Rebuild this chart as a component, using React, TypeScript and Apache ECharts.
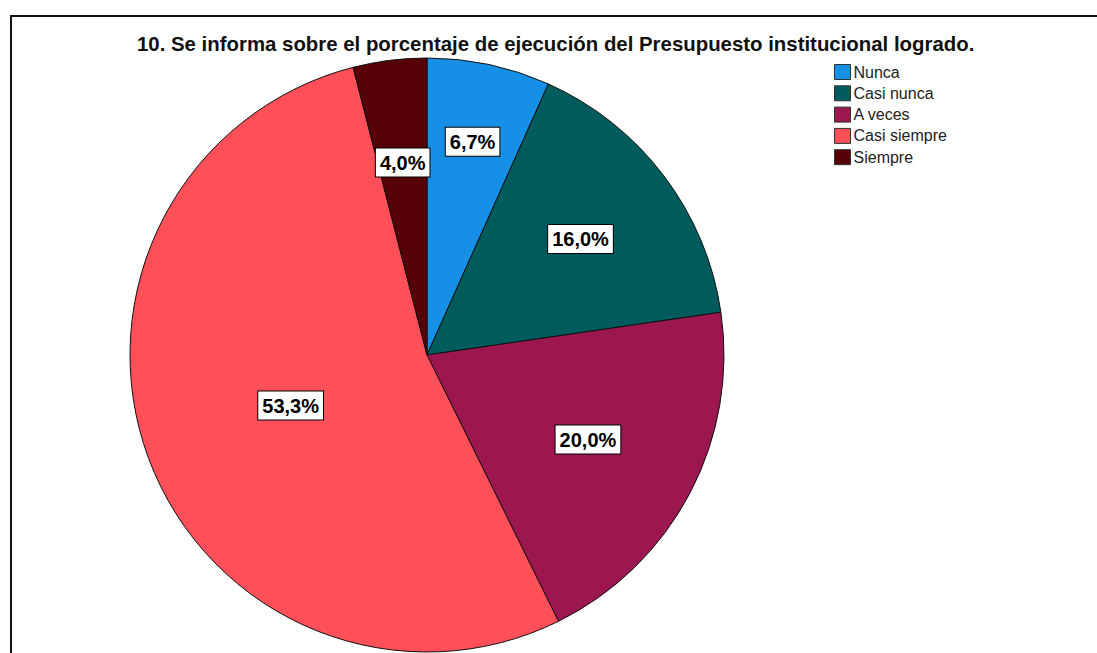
import React, { useEffect, useRef } from "react";
import * as echarts from "echarts";

const titleText = "10. Se informa sobre el porcentaje de ejecución del Presupuesto institucional logrado.";
const categories = ["Nunca", "Casi nunca", "A veces", "Casi siempre", "Siempre"];
const percents = [6.7, 16.0, 20.0, 53.3, 4.0];
const colors = ["#1590E6", "#005C5C", "#9C1650", "#FF4F58", "#560008"];
const labelRadiusFrac = [0.72, 0.635, 0.6, 0.48, 0.64];

const CX = 427;
const CY = 355;
const R = 297;

export default function App() {
  const ref = useRef<HTMLDivElement>(null);
  useEffect(() => {
    if (!ref.current) return;
    const chart = echarts.init(ref.current, null, { renderer: "svg" });
    chart.setOption({
      animation: false,
      backgroundColor: "#ffffff",
      title: {
        text: titleText,
        left: 137,
        top: 34,
        textStyle: { fontFamily: "Liberation Sans, Arial, sans-serif", fontSize: 20.4, fontWeight: "bold", color: "#111" },
        padding: 0,
      },
      legend: {
        orient: "vertical",
        left: 834,
        top: 64,
        padding: 0,
        itemWidth: 16,
        itemHeight: 15,
        itemGap: 5.3,
        icon: "rect",
        data: categories,
        itemStyle: { borderColor: "#333", borderWidth: 1 },
        textStyle: { fontFamily: "Liberation Sans, Arial, sans-serif", fontSize: 16, lineHeight: 15, color: "#222", padding: [0, 0, 0, -2] },
        selectedMode: false,
      },
      graphic: [
        {
          type: "rect",
          shape: { x: 11, y: 16, width: 1200, height: 1000 },
          style: { fill: "none", stroke: "#111", lineWidth: 2 },
          silent: true,
          z: 100,
        },
      ],
      series: [
        {
          type: "pie",
          center: [CX, CY],
          radius: [0, R],
          startAngle: 90,
          clockwise: true,
          data: categories.map((name, i) => ({ name, value: percents[i], itemStyle: { color: colors[i] } })),
          itemStyle: { borderColor: "#111", borderWidth: 1 },
          label: {
            show: true,
            position: "inside",
            formatter: (p: any) => p.value.toFixed(1).replace(".", ",") + "%",
            fontFamily: "Liberation Sans, Arial, sans-serif",
            fontSize: 20,
            fontWeight: "bold",
            color: "#000",
            backgroundColor: "#fff",
            borderColor: "#000",
            borderWidth: 1,
            padding: [5, 4, 3, 4],
          },
          labelLine: { show: false },
          labelLayout: (params: any) => {
            const rect = params.labelRect;
            const lx = rect.x + rect.width / 2;
            const ly = rect.y + rect.height / 2;
            const k = labelRadiusFrac[params.dataIndex] / 0.5 - 1;
            return { dx: (lx - CX) * k, dy: (ly - CY) * k };
          },
          emphasis: { disabled: true },
        },
      ],
    });
    return () => chart.dispose();
  }, []);
  return <div ref={ref} style={{ position: "absolute", left: 0, top: 0, width: 1097, height: 653 }} />;
}
